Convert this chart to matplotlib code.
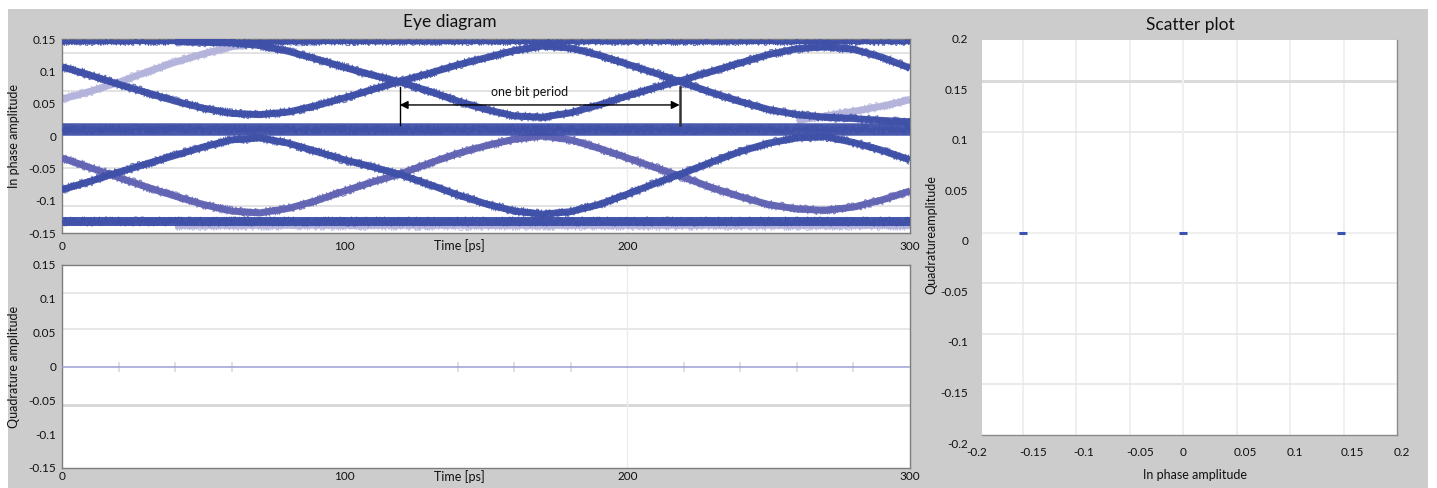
import matplotlib
matplotlib.use('Agg')
import matplotlib.pyplot as plt
from matplotlib.patches import Rectangle

plt.rcParams['font.family'] = ['Lato', 'DejaVu Sans']

# ---------------- data ----------------
eye_t = [0, 10, 20, 30, 40, 50, 60, 70, 80, 90, 100, 110, 120, 130, 140, 150,
         160, 170, 180, 190, 200, 210, 220, 230, 240, 250, 260, 270, 280, 290, 300]

# flat levels (ps, amplitude)
flat_t = [0, 300]
top_level = [0.146, 0.146]
mid_level = [0.0105, 0.0105]
bot_level = [-0.132, -0.132]
bot_light_t = [40, 300]
bot_light = [-0.139, -0.139]

# upper transitions
u1 = [0.107, 0.094, 0.080, 0.067, 0.054, 0.043, 0.035, 0.033, 0.037, 0.047, 0.059,
      0.072, 0.085, 0.097, 0.110, 0.121, 0.132, 0.139, 0.136, 0.125, 0.111, 0.097,
      0.082, 0.067, 0.053, 0.041, 0.033, 0.029, 0.027, 0.024, 0.022]
u2_t = [0, 10, 20, 30, 40, 50, 60, 70, 80, 90]
u2 = [0.057, 0.069, 0.083, 0.099, 0.114, 0.127, 0.138, 0.144, 0.146, 0.146]
u3_t = [40, 50, 60, 70, 80, 90, 100, 110, 120, 130, 140, 150, 160, 170, 180, 190,
        200, 210, 220, 230, 240, 250, 260, 270, 280, 290, 300]
u3 = [0.146, 0.145, 0.144, 0.140, 0.131, 0.119, 0.106, 0.094, 0.083, 0.069, 0.054,
      0.041, 0.031, 0.029, 0.036, 0.048, 0.062, 0.075, 0.087, 0.100, 0.113, 0.126,
      0.135, 0.138, 0.134, 0.122, 0.105]
u4_t = [260, 270, 280, 290, 300]
u4 = [0.024, 0.031, 0.038, 0.046, 0.056]

# lower transitions
l1 = [-0.034, -0.049, -0.064, -0.079, -0.093, -0.106, -0.116, -0.119, -0.112, -0.100,
      -0.085, -0.071, -0.058, -0.042, -0.027, -0.015, -0.005, 0.000, -0.006, -0.019,
      -0.034, -0.049, -0.064, -0.080, -0.094, -0.106, -0.113, -0.115, -0.110, -0.099,
      -0.085]
l2 = [-0.083, -0.070, -0.056, -0.043, -0.030, -0.017, -0.006, -0.003, -0.011, -0.024,
      -0.037, -0.048, -0.060, -0.075, -0.091, -0.105, -0.116, -0.121, -0.117, -0.106,
      -0.090, -0.073, -0.057, -0.040, -0.024, -0.011, -0.003, -0.001, -0.010, -0.022,
      -0.037]

# bit period marker
bit_start, bit_end = 119.5, 218.5

# quadrature signal
quad_t = [0, 300]
quad_v = [0.0, 0.0]

# constellation points
scatter_i = [-0.150, 0.0, 0.148]
scatter_q = [0.0, 0.0, 0.0]

# axes ticks / labels
time_ticks = [0, 100, 200, 300]
time_labels = ['0', '100', '200', '300']
amp_ticks = [0.15, 0.1, 0.05, 0, -0.05, -0.1, -0.15]
amp_labels = ['0.15', '0.1', '0.05', '0', '-0.05', '-0.1', '-0.15']
sc_ticks = [-0.2, -0.15, -0.1, -0.05, 0, 0.05, 0.1, 0.15, 0.2]
sc_labels = ['-0.2', '-0.15', '-0.1', '-0.05', '0', '0.05', '0.1', '0.15', '0.2']
eye_hgrid = [0.128, 0.07, -0.05, -0.108]
quad_hgrid = [0.109, 0.056]
quad_hgrid_strong = [-0.057]
quad_zero_marks = [20, 40, 60, 140, 160, 180, 220, 240, 260, 280]
sc_vgrid = [-0.15, -0.1, -0.05, 0.05, 0.1, 0.15]
sc_hgrid = [0.1, -0.05, -0.1, -0.15]
sc_hgrid_strong = [0.15]

# ---------------- figure ----------------
W, H = 1437, 488
fig = plt.figure(figsize=(W / 100, H / 100), dpi=100)
fig.patch.set_facecolor('white')
fig.add_artist(Rectangle((8 / W, 0), (1428 - 8) / W, (H - 9) / H,
                         transform=fig.transFigure, facecolor='#cccccc',
                         edgecolor='none', zorder=-10))


def fx(x):
    return x / W


def fy(y):
    return 1 - y / H


ax1 = fig.add_axes([fx(62), fy(233), (910 - 62) / W, (233 - 39) / H])
ax2 = fig.add_axes([fx(62), fy(468), (910 - 62) / W, (468 - 265) / H])
ax3 = fig.add_axes([fx(982), fy(435), (1397 - 982) / W, (435 - 40) / H])

DARK = '#3f50a8'
MED = '#6264b4'
LIGHT = '#b3b3dc'
TXT = '#111111'


def band(ax, t, v, color, lw, fuzz, z, alpha=0.95):
    ax.plot(t, v, color=color, lw=lw, solid_capstyle='butt', zorder=z, alpha=alpha)
    for k, (sc, rnd) in enumerate([(fuzz, 3.0), (fuzz * 0.75, 5.0), (fuzz * 0.5, 4.0)]):
        ln, = ax.plot(t, v, color=color, lw=0.8, zorder=z + 0.1, alpha=0.85 * alpha)
        ln.set_sketch_params(scale=sc, length=0.6 + 0.3 * k, randomness=rnd)


# ---- eye diagram ----
ax1.set_xlim(0, 300)
ax1.set_ylim(-0.15, 0.15)
for g in eye_hgrid:
    ax1.axhline(g, color='#e3e3e3', lw=1.4, zorder=0)
ax1.axvline(200, color='#ececec', lw=1.0, zorder=0)

band(ax1, u2_t, u2, LIGHT, 5.0, 4.5, 2)
band(ax1, u4_t, u4, LIGHT, 5.0, 4.5, 2)
band(ax1, bot_light_t, bot_light, LIGHT, 4.0, 4.0, 2, alpha=0.85)
band(ax1, eye_t, l1, MED, 5.0, 4.5, 3)
band(ax1, flat_t, top_level, DARK, 3.0, 3.0, 4)
band(ax1, flat_t, mid_level, DARK, 9.0, 4.5, 4)
band(ax1, flat_t, bot_level, DARK, 6.5, 4.5, 4)
band(ax1, eye_t, u1, DARK, 5.0, 4.5, 4)
band(ax1, u3_t, u3, DARK, 5.0, 4.5, 4)
band(ax1, eye_t, l2, DARK, 5.0, 4.5, 4)

# bit-period annotation
ax1.plot([bit_start, bit_start], [0.017, 0.076], color='black', lw=1.0, zorder=10)
ax1.plot([bit_end, bit_end], [0.017, 0.076], color='#333333', lw=1.8, zorder=10)
ax1.annotate('', xy=(bit_start, 0.048), xytext=(bit_end, 0.048),
             arrowprops=dict(arrowstyle='<|-|>', color='black', lw=1.0,
                             shrinkA=0, shrinkB=0, mutation_scale=12), zorder=10)
ax1.text((bit_start + bit_end) / 2 - 3.5, 0.068, 'one bit period', ha='center',
         va='center', fontsize=9, color=TXT, zorder=11)

ax1.set_xticks(time_ticks)
ax1.set_xticklabels(time_labels)
ax1.set_yticks(amp_ticks)
ax1.set_yticklabels(amp_labels)
ax1.tick_params(length=0, labelsize=8.5, colors=TXT, pad=4)
ax1.tick_params(axis='x', pad=6)
ax1.set_ylabel('In phase amplitude', fontsize=9, color=TXT, labelpad=6)
fig.text(fx(459), fy(246), 'Time [ps]', ha='center', va='center', fontsize=9, color=TXT)
fig.text(fx(450), fy(22), 'Eye diagram', ha='center', va='center', fontsize=12.5, color=TXT)

# ---- quadrature ----
ax2.set_xlim(0, 300)
ax2.set_ylim(-0.15, 0.15)
for g in quad_hgrid:
    ax2.axhline(g, color='#e3e3e3', lw=1.2, zorder=0)
for g in quad_hgrid_strong:
    ax2.axhline(g, color='#d6d6d6', lw=2.0, zorder=0)
ax2.axvline(200, color='#ececec', lw=1.0, zorder=0)
ax2.plot(quad_zero_marks, [0] * len(quad_zero_marks), linestyle='none', marker='|',
         markersize=7, color='#dcdcdc', mew=1.2, zorder=1)
ax2.plot(quad_t, quad_v, color='#9d9fd2', lw=1.1, zorder=3)
ax2.set_xticks(time_ticks)
ax2.set_xticklabels(time_labels)
ax2.set_yticks(amp_ticks)
ax2.set_yticklabels(amp_labels)
ax2.tick_params(length=0, labelsize=8.5, colors=TXT, pad=4)
ax2.tick_params(axis='x', pad=2)
ax2.set_ylabel('Quadrature amplitude', fontsize=9, color=TXT, labelpad=6)
fig.text(fx(459), fy(477), 'Time [ps]', ha='center', va='center', fontsize=9, color=TXT)

for ax in (ax1, ax2):
    ax.set_facecolor('white')
    for s in ax.spines.values():
        s.set_color('#7d7d7d')
        s.set_linewidth(1.0)

# ---- scatter ----
ax3.set_xlim(-0.188, 0.2)
ax3.set_ylim(-0.2, 0.191)
ax3.set_facecolor('white')
for g in sc_vgrid:
    ax3.axvline(g, color='#ececec', lw=1.2, zorder=0)
for g in sc_hgrid:
    ax3.axhline(g, color='#e6e6e6', lw=1.2, zorder=0)
for g in sc_hgrid_strong:
    ax3.axhline(g, color='#d8d8d8', lw=2.0, zorder=0)
ax3.axvline(0, color='#f0f0f0', lw=1.5, zorder=0)
ax3.axhline(0, color='#f0f0f0', lw=1.5, zorder=0)
ax3.plot(scatter_i, scatter_q, linestyle='none', marker='_', markersize=6, mew=2.2,
         color='#3a52b0', zorder=5)
ax3.set_xticks([])
ax3.set_yticks([])
for name, s in ax3.spines.items():
    if name in ('top', 'left'):
        s.set_visible(False)
    else:
        s.set_color('#8a8a8a')
        s.set_linewidth(1.0)

for v, lab in zip(sc_ticks, sc_labels):
    ax3.annotate(lab, xy=(v, 0), xycoords=('data', 'axes fraction'),
                 xytext=(-3, -18), textcoords='offset pixels', ha='left', va='center',
                 fontsize=8.5, color=TXT, annotation_clip=False)
    ax3.annotate(lab, xy=(0, v), xycoords=('axes fraction', 'data'),
                 xytext=(-14, -9), textcoords='offset pixels', ha='right', va='center',
                 fontsize=8.5, color=TXT, annotation_clip=False)

fig.text(fx(1195), fy(475), 'In phase amplitude', ha='center', va='center',
         fontsize=9, color=TXT)
fig.text(fx(931), fy(235), 'Quadratureamplitude', ha='center', va='center',
         rotation=90, fontsize=9, color=TXT)
fig.text(fx(1190), fy(25), 'Scatter plot', ha='center', va='center',
         fontsize=12.5, color=TXT)

fig.savefig('out.png', dpi=100, facecolor=fig.get_facecolor())
